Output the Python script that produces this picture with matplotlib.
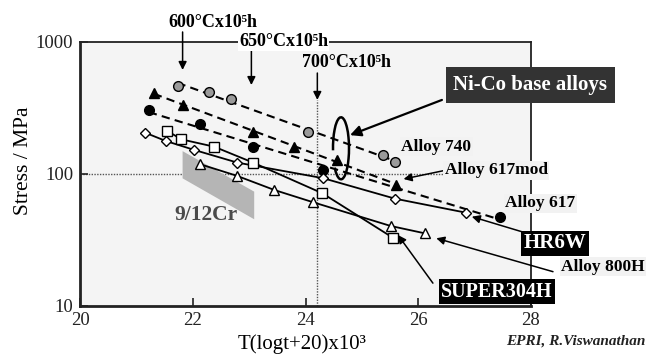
import numpy as np
import matplotlib
matplotlib.use("Agg")
import matplotlib.pyplot as plt
from matplotlib.patches import Arc, Polygon

plt.rcParams['font.family'] = ['Liberation Serif', 'DejaVu Serif']

# ---------------- data ----------------
a740_x = [21.73, 22.29, 22.67, 24.04, 25.38, 25.59]
a740_y = [467, 416, 368, 209, 139, 123]

a617mod_x = [21.31, 21.82, 23.07, 23.80, 24.56, 25.61]
a617mod_y = [413, 333, 209, 159, 128, 83]

a617_x = [21.22, 22.12, 23.06, 24.31, 27.45]
a617_y = [305, 238, 159, 107, 47.5]

hr6w_x = [21.15, 21.52, 22.03, 22.79, 24.31, 25.59, 26.84]
hr6w_y = [206, 178, 152, 122, 93, 65, 51]

s304_x = [21.54, 21.80, 22.38, 23.07, 24.30, 25.55]
s304_y = [213, 183, 161, 122, 71.4, 32.9]

a800_x = [22.12, 22.78, 23.45, 24.14, 25.51, 26.12]
a800_y = [119, 97, 75.6, 61, 40.4, 35.5]

cr_band_x = [21.82, 23.09, 23.09, 21.82]
cr_band_y = [149, 73.5, 45.4, 92.7]

xticks = [20, 22, 24, 26, 28]
yticks = [10, 100, 1000]
# --------------------------------------

W, H = 649, 354
fig = plt.figure(figsize=(W / 100, H / 100), dpi=100)
ax = fig.add_axes([80 / W, 1 - 306 / H, 451 / W, 264 / H])
ax.set_facecolor('#f4f4f4')
ax.set_xlim(20, 28)
ax.set_yscale('log')
ax.set_ylim(10, 1000)
ax.set_xticks(xticks)
ax.set_xticklabels([str(t) for t in xticks])
ax.set_yticks(yticks)
ax.set_yticklabels([str(t) for t in yticks])
ax.minorticks_off()
ax.tick_params(direction='in', length=6, width=1.2, labelsize=13.5, colors='#222222')
ax.tick_params(axis='x', pad=4)
ax.tick_params(axis='y', pad=5)
for s in ['left', 'bottom']:
    ax.spines[s].set_linewidth(2.0)
for s in ['top', 'right']:
    ax.spines[s].set_linewidth(1.3)
for s in ax.spines.values():
    s.set_color('#222222')

ax.set_xlabel('T(logt+20)x10³', fontsize=15)
ax.xaxis.set_label_coords(0.492, -0.108)
ax.set_ylabel('Stress / MPa', fontsize=15.5)
ax.yaxis.set_label_coords(-0.105, 0.55)

# reference lines
ax.axhline(100, color='#555555', lw=1.0, ls=(0, (1, 1)), zorder=1)
ax.plot([24.21, 24.21], [10, 364], color='#555555', lw=1.0, ls=(0, (1, 1)), zorder=1)

# 9/12Cr band
ax.add_patch(Polygon(list(zip(cr_band_x, cr_band_y)), closed=True,
                     facecolor='#b5b5b5', edgecolor='none', zorder=1))
ax.text(22.23, 49, '9/12Cr', fontsize=15.5, fontweight='bold', color='#4a4a4a',
        ha='center', va='center', zorder=2)


def fit_line(xs, ys):
    xs = np.asarray(xs)
    p = np.polyfit(xs, np.log10(ys), 1)
    xx = np.linspace(xs.min(), xs.max(), 50)
    return xx, 10 ** np.polyval(p, xx)


dash = (0, (4, 2.5))
# dashed Ni-Co lines
for xs, ys, mk, fc in [(a740_x, a740_y, 'o', '#9a9a9a'),
                       (a617mod_x, a617mod_y, '^', 'black'),
                       (a617_x, a617_y, 'o', 'black')]:
    xx, yy = fit_line(xs, ys)
    ax.plot(xx, yy, color='black', lw=1.5, ls=dash, zorder=3)
    ax.plot(xs, ys, ls='none', marker=mk, ms=7, mfc=fc, mec='black', mew=1.0, zorder=4)

# solid lines for steels / HR6W
for xs, ys, mk in [(hr6w_x, hr6w_y, 'D'),
                   (s304_x, s304_y, 's'),
                   (a800_x, a800_y, '^')]:
    ax.plot(xs, ys, color='black', lw=1.3, zorder=3)
    ms = 5.5 if mk == 'D' else 7
    ax.plot(xs, ys, ls='none', marker=mk, ms=ms, mfc='white', mec='black', mew=1.0, zorder=4)

arrow = dict(arrowstyle='-|>', color='black', lw=1.1, mutation_scale=12, shrinkA=0, shrinkB=0)

# temperature markers
ax.annotate('', xy=(21.82, 614), xytext=(21.82, 1191), arrowprops=arrow, annotation_clip=False)
ax.text(22.36, 1393, '600°Cx10⁵h', fontsize=13, fontweight='bold', ha='center', va='center',
        clip_on=False)
ax.annotate('', xy=(23.04, 472), xytext=(23.04, 870), arrowprops=arrow, annotation_clip=False)
ax.text(23.61, 1000, '650°Cx10⁵h', fontsize=13, fontweight='bold', ha='center', va='center',
        clip_on=False, zorder=6, bbox=dict(facecolor='white', edgecolor='none', pad=0.5))
ax.annotate('', xy=(24.21, 364), xytext=(24.21, 582), arrowprops=arrow, annotation_clip=False)
ax.text(24.72, 705, '700°Cx10⁵h', fontsize=13, fontweight='bold', ha='center', va='center',
        clip_on=False)

# Ni-Co label and ellipse
ax.text(27.99, 470, 'Ni-Co base alloys', fontsize=15, fontweight='bold', color='white',
        ha='center', va='center', clip_on=False, zorder=7,
        bbox=dict(facecolor='#333333', edgecolor='none', boxstyle='square,pad=0.38'))
ax.annotate('', xy=(24.79, 197), xytext=(26.42, 364),
            arrowprops=dict(arrowstyle='-|>', color='black', lw=1.6, mutation_scale=16,
                            shrinkA=0, shrinkB=0))
fig.patches.append(Arc((341 / W, 1 - 148.3 / H), 16 / W, 62 / H, theta1=-100, theta2=205,
                       transform=fig.transFigure, color='black', lw=1.8, zorder=6))

lab_box = dict(facecolor='#f2f2f2', edgecolor='none', pad=1)
ax.text(25.70, 161, 'Alloy 740', fontsize=12.5, fontweight='bold', ha='left', va='center',
        clip_on=False, zorder=6, bbox=lab_box)
ax.text(26.47, 107, 'Alloy 617mod', fontsize=12.5, fontweight='bold', ha='left', va='center',
        clip_on=False, zorder=6, bbox=lab_box)
ax.annotate('', xy=(25.74, 91.6), xytext=(26.45, 106), arrowprops=arrow, annotation_clip=False)
ax.text(27.54, 60, 'Alloy 617', fontsize=12.5, fontweight='bold', ha='left', va='center',
        clip_on=False, zorder=6, bbox=lab_box)

ax.text(28.43, 29.9, 'HR6W', fontsize=15, fontweight='bold', color='white', ha='center',
        va='center', clip_on=False, zorder=7,
        bbox=dict(facecolor='black', edgecolor='none', boxstyle='square,pad=0.12'))
ax.annotate('', xy=(26.95, 47.5), xytext=(27.85, 36.4), arrowprops=arrow, annotation_clip=False)

ax.text(28.54, 19.9, 'Alloy 800H', fontsize=12.5, fontweight='bold', ha='left', va='center',
        clip_on=False, zorder=6, bbox=lab_box)
ax.annotate('', xy=(26.32, 32.6), xytext=(28.39, 18.2), arrowprops=arrow, annotation_clip=False)

ax.text(27.40, 12.8, 'SUPER304H', fontsize=14.5, fontweight='bold', color='white', ha='center',
        va='center', clip_on=False, zorder=7,
        bbox=dict(facecolor='black', edgecolor='none', boxstyle='square,pad=0.12'))
ax.annotate('', xy=(25.64, 34.5), xytext=(26.26, 14.9), arrowprops=arrow, annotation_clip=False)

fig.text(645 / W, 1 - 341 / H, 'EPRI, R.Viswanathan', fontsize=11, fontweight='bold',
         fontstyle='italic', ha='right', va='center', color='#222222')

fig.savefig('out.png', dpi=100)
